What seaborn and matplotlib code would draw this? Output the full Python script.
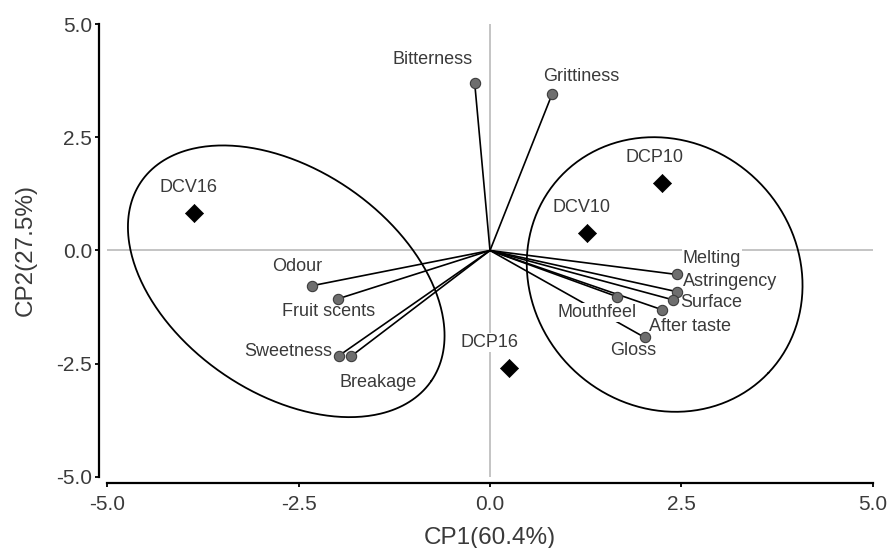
import numpy as np
import pandas as pd
import matplotlib
matplotlib.use("Agg")
from matplotlib import pyplot as plt
import seaborn as sns

# attribute loadings (CP1, CP2)
attributes = ['Bitterness', 'Grittiness', 'Melting', 'Astringency', 'Surface',
              'After taste', 'Mouthfeel', 'Gloss', 'Odour', 'Fruit scents',
              'Sweetness', 'Breakage']
cp1_attr = [-0.20, 0.81, 2.44, 2.44, 2.39, 2.25, 1.66, 2.02, -2.33, -1.99, -1.97, -1.81]
cp2_attr = [3.70, 3.45, -0.53, -0.91, -1.09, -1.31, -1.02, -1.92, -0.78, -1.07, -2.32, -2.33]

# sample scores
samples = ['DCV16', 'DCP10', 'DCV10', 'DCP16']
cp1_samp = [-3.86, 2.25, 1.26, 0.25]
cp2_samp = [0.82, 1.50, 0.38, -2.60]

ticks = [-5.0, -2.5, 0.0, 2.5, 5.0]
tick_labels = ['-5.0', '-2.5', '0.0', '2.5', '5.0']

# label offsets from the marker, in pixels
label_off = {
    'Bitterness': (-42, 23), 'Grittiness': (29, 18), 'Melting': (35, 16),
    'Astringency': (53, 10), 'Surface': (38, -3), 'After taste': (28, -17),
    'Mouthfeel': (-20, -16), 'Gloss': (-12, -13), 'Odour': (-14, 19),
    'Fruit scents': (-9, -13), 'Sweetness': (-51, 4), 'Breakage': (27, -26),
    'DCV16': (-6, 26), 'DCP10': (-8, 25), 'DCV10': (-5, 26), 'DCP16': (-20, 26),
}

# group ellipses: centre (data), semi axes (px), rotation (deg, screen)
ellipses = [((-2.66, -0.68), 176, 112, -34.5),
            ((2.28, -0.53), 143, 132, -43.5)]

attr_df = pd.DataFrame({'CP1': cp1_attr, 'CP2': cp2_attr, 'name': attributes})
samp_df = pd.DataFrame({'CP1': cp1_samp, 'CP2': cp2_samp, 'name': samples})

sns.set_style("ticks")
plt.rcParams['font.family'] = ['Liberation Sans', 'DejaVu Sans']
plt.rcParams['axes.unicode_minus'] = False

fig = plt.figure(figsize=(8.88, 5.48), dpi=100)
ax = fig.add_axes([0.1205, 0.1296, 0.8626, 0.8266])

ax.axhline(0, color='#b4b4b4', lw=1.1, zorder=1)
ax.axvline(0, color='#b4b4b4', lw=1.1, zorder=1)

for x, y in zip(cp1_attr, cp2_attr):
    ax.plot([0, x], [0, y], color='black', lw=1.2, zorder=2)

# ellipses drawn in screen-space units then mapped to data units
sx = 76.6   # px per unit x
sy = 45.3   # px per unit y
t = np.linspace(0, 2 * np.pi, 400)
for (cx, cy), a, b, ang in ellipses:
    phi = np.deg2rad(ang)
    ex = cx + (a * np.cos(t) * np.cos(phi) - b * np.sin(t) * np.sin(phi)) / sx
    ey = cy + (a * np.cos(t) * np.sin(phi) + b * np.sin(t) * np.cos(phi)) / sy
    ax.plot(ex, ey, color='black', lw=1.3, zorder=2)

for df in [attr_df, samp_df]:
    for _, r in df.iterrows():
        dx, dy = label_off[r['name']]
        ax.annotate(r['name'], (r['CP1'], r['CP2']), xytext=(dx, dy),
                    textcoords='offset pixels', ha='center', va='center',
                    fontsize=13, color='#3a3a3a', zorder=3,
                    bbox=dict(boxstyle='square,pad=0.05', fc='white', ec='none'))

sns.scatterplot(data=attr_df, x='CP1', y='CP2', ax=ax, s=55, color='#6e6e6e',
                edgecolor='#3c3c3c', linewidth=0.8, zorder=4)
sns.scatterplot(data=samp_df, x='CP1', y='CP2', ax=ax, marker='D', s=85,
                color='black', edgecolor='black', linewidth=0.5, zorder=4)

ax.set_xlim(-5, 5)
ax.set_ylim(-5, 5)
ax.set_xticks(ticks)
ax.set_xticklabels(tick_labels)
ax.set_yticks(ticks)
ax.set_yticklabels(tick_labels)
ax.tick_params(axis='both', labelsize=15, labelcolor='#3a3a3a', width=1.3,
               length=3, color='black')
ax.tick_params(axis='x', pad=6)
ax.tick_params(axis='y', pad=2)

sns.despine(ax=ax)
ax.spines['left'].set_position(('outward', 5.8))
ax.spines['bottom'].set_position(('outward', 4.3))
for s in ['left', 'bottom']:
    ax.spines[s].set_linewidth(1.6)
    ax.spines[s].set_color('black')

ax.set_xlabel('CP1(60.4%)', fontsize=17.5, color='#3a3a3a', labelpad=9)
ax.set_ylabel('CP2(27.5%)', fontsize=17.5, color='#3a3a3a', labelpad=14)

fig.savefig('out.png', dpi=100)
